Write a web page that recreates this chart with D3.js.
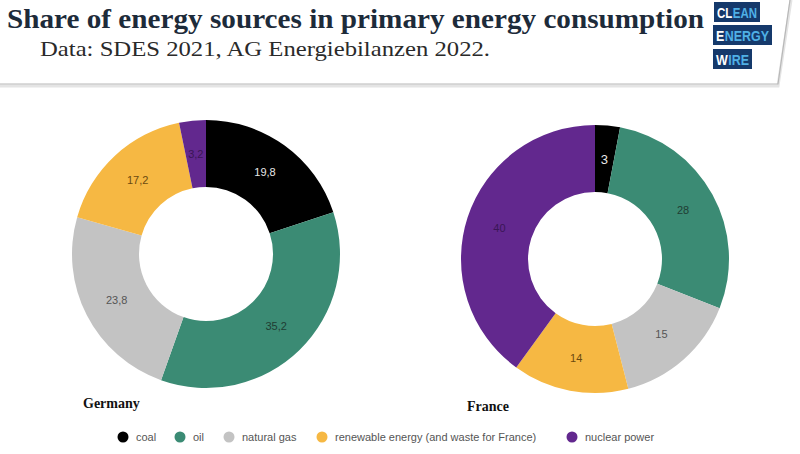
<!DOCTYPE html>
<html><head><meta charset="utf-8">
<script src="https://cdn.jsdelivr.net/npm/d3@7"></script>
<style>body{margin:0;background:#fff}svg{display:block}</style>
</head><body>
<svg id="c" width="800" height="454"></svg>
<script>
const categories = ["coal","oil","natural gas","renewable energy (and waste for France)","nuclear power"];
const germanyValues = [19.8, 35.2, 23.8, 17.2, 3.2];
const franceValues = [3, 28, 15, 14, 40];
const countries = ["Germany","France"];
const colors = ["#000000","#3b8b74","#c3c3c3","#f6b843","#62288e"];
const labelColors = ["#e8e8e8","#1f3d33","#555555","#6b4a10","#3a1656"];

const svg = d3.select("#c");
const fmt = v => String(v).replace(".", ",");

// header
const hdr = svg.append("g");
hdr.append("path").attr("d","M0,86 L778,86 L791,0").attr("fill","none").attr("stroke","#e4e4e4").attr("stroke-width",3);
hdr.append("path").attr("d","M0,84 L778,84 L790,0").attr("fill","none").attr("stroke","#b8b8b8").attr("stroke-width",1.2);
hdr.append("text").attr("x",7).attr("y",28).attr("font-family","Liberation Serif, serif").attr("font-weight","bold")
  .attr("font-size",27).attr("fill","#1d2b3a").attr("textLength",697).attr("lengthAdjust","spacingAndGlyphs")
  .text("Share of energy sources in primary energy consumption");
hdr.append("text").attr("x",40).attr("y",56).attr("font-family","Liberation Serif, serif")
  .attr("font-size",21).attr("fill","#2a2a2a").attr("textLength",450).attr("lengthAdjust","spacingAndGlyphs")
  .text("Data: SDES 2021, AG Energiebilanzen 2022.");

// logo
const logo = [{a:"CL",b:"EAN",x:714,y:2,w:46},{a:"E",b:"NERGY",x:713,y:25,w:59},{a:"W",b:"IRE",x:713,y:49,w:39}];
logo.forEach(l=>{
  hdr.append("rect").attr("x",l.x).attr("y",l.y).attr("width",l.w).attr("height",20).attr("fill","#15396b");
  const g = hdr.append("g");
  const style = t => t.attr("y",0).attr("font-family","Liberation Sans, sans-serif")
    .attr("font-weight","bold").attr("font-size",15);
  const ta = style(g.append("text")).attr("x",0).attr("fill","#ffffff").text(l.a);
  const wa = ta.node().getComputedTextLength();
  const tb = style(g.append("text")).attr("x",wa+0.5).attr("fill","#4fb0e6").text(l.b);
  const total = wa + 0.5 + tb.node().getComputedTextLength();
  const sx = (l.w - 6) / total;
  g.attr("transform",`translate(${l.x+3},${l.y+16}) scale(${sx},1)`);
});

// donuts
const pie = d3.pie().sort(null).value(d=>d.v);
const outerR = 134, innerR = 67;
const arc = d3.arc().innerRadius(innerR).outerRadius(outerR);
const labelArc = d3.arc().innerRadius((innerR+outerR)/2).outerRadius((innerR+outerR)/2);
const centers = [[206,254],[595,259]];
const nameXY = [[83,408],[467,411]];
[germanyValues, franceValues].forEach((vals, ci)=>{
  const data = vals.map((v,i)=>({v, i}));
  const g = svg.append("g").attr("transform",`translate(${centers[ci][0]},${centers[ci][1]})`);
  const arcs = pie(data);
  g.selectAll("path").data(arcs).join("path").attr("d",arc).attr("fill",d=>colors[d.data.i]);
  g.selectAll("text").data(arcs).join("text")
    .attr("transform",d=>`translate(${labelArc.centroid(d)})`)
    .attr("text-anchor","middle").attr("dy","0.35em")
    .attr("font-family","Liberation Sans, Arial, sans-serif").attr("font-size",d=>(ci===1&&d.data.i===0)?13:11)
    .attr("fill",d=>labelColors[d.data.i]).text(d=>fmt(d.data.v));
  svg.append("text").attr("x",nameXY[ci][0]).attr("y",nameXY[ci][1]).attr("font-family","Liberation Serif, serif")
    .attr("font-weight","bold").attr("font-size",14).attr("fill","#111").text(countries[ci]);
});

// legend
const legX = [123,180,229,322,572];
const lg = svg.append("g");
categories.forEach((c,i)=>{
  lg.append("circle").attr("cx",legX[i]).attr("cy",437).attr("r",5.5).attr("fill",colors[i]);
  lg.append("text").attr("x",legX[i]+13).attr("y",441).attr("font-family","Liberation Sans, Arial, sans-serif")
    .attr("font-size",11).attr("fill","#555").text(c);
});
</script>
</body></html>
